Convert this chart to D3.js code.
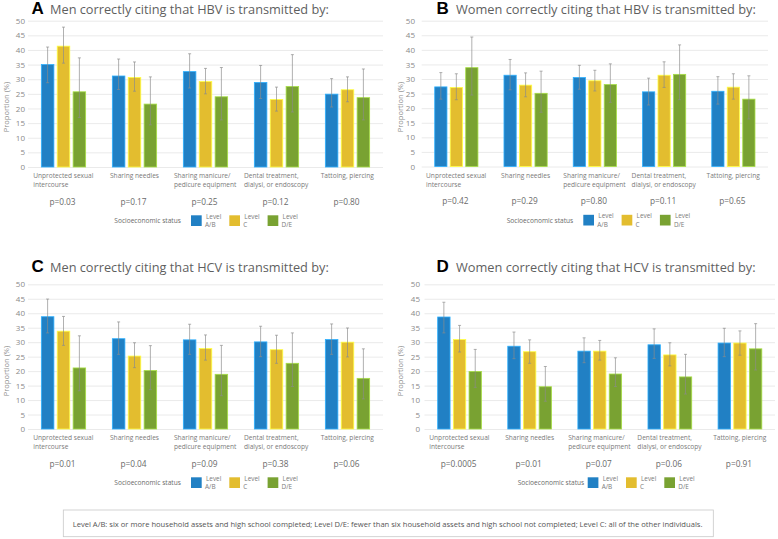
<!DOCTYPE html>
<html><head><meta charset="utf-8">
<script src="https://cdn.jsdelivr.net/npm/d3@7"></script>
<style>body{margin:0;background:#fff}svg{display:block}</style>
</head><body>
<svg id="chart" width="778" height="539"></svg>
<script>
// ---------- DATA ----------
const categories = ["Unprotected sexual intercourse","Sharing needles","Sharing manicure/pedicure equipment","Dental treatment, dialysi, or endoscopy","Tattoing, piercing"];
const categoryLines = [["Unprotected sexual","intercourse"],["Sharing needles"],["Sharing manicure/","pedicure equipment"],["Dental treatment,","dialysi, or endoscopy"],["Tattoing, piercing"]];
const levels = ["Level A/B","Level C","Level D/E"];
const levelLines = [["Level","A/B"],["Level","C"],["Level","D/E"]];
const yTicks = [0,5,10,15,20,25,30,35,40,45,50];
const footnote = "Level A/B: six or more household assets and high school completed; Level D/E: fewer than six household assets and high school not completed; Level C: all of the other individuals.";

// Panel A: Men, HBV
const menHBV_AB = [35.0,31.1,32.6,28.9,24.9], menHBV_AB_lo = [28.8,26.5,27.0,23.4,20.5], menHBV_AB_hi = [41.0,36.9,38.7,34.7,30.2];
const menHBV_C  = [41.3,30.6,29.2,23.1,26.4], menHBV_C_lo  = [35.5,25.9,25.0,19.1,22.3], menHBV_C_hi  = [47.8,35.9,33.7,27.3,30.8];
const menHBV_DE = [25.7,21.5,24.0,27.5,23.7], menHBV_DE_lo = [16.9,14.4,16.1,18.8,16.1], menHBV_DE_hi = [37.3,30.8,34.0,38.4,33.5];
const menHBV_p = ["p=0.03","p=0.17","p=0.25","p=0.12","p=0.80"];
// Panel B: Women, HBV
const womenHBV_AB = [27.3,31.3,30.5,25.6,25.8], womenHBV_AB_lo = [23.1,26.3,26.5,21.1,21.4], womenHBV_AB_hi = [32.2,36.7,34.7,30.3,30.8];
const womenHBV_C  = [27.1,27.9,29.4,31.3,27.2], womenHBV_C_lo  = [22.9,23.9,25.9,27.1,23.1], womenHBV_C_hi  = [31.8,32.1,33.0,35.9,31.8];
const womenHBV_DE = [33.9,25.1,28.1,31.6,23.1], womenHBV_DE_lo = [24.5,18.6,22.0,22.9,16.3], womenHBV_DE_hi = [44.4,32.7,35.2,41.7,31.1];
const womenHBV_p = ["p=0.42","p=0.29","p=0.80","p=0.11","p=0.65"];
// Panel C: Men, HCV
const menHCV_AB = [38.8,31.2,30.8,30.1,30.9], menHCV_AB_lo = [33.2,25.8,25.8,25.0,25.8], menHCV_AB_hi = [44.9,37.0,36.2,35.5,36.3];
const menHCV_C  = [33.8,25.2,27.8,27.4,30.0], menHCV_C_lo  = [28.9,21.2,23.8,22.7,24.9], menHCV_C_hi  = [38.9,29.8,32.5,32.4,34.9];
const menHCV_DE = [21.1,20.2,18.9,22.7,17.5], menHCV_DE_lo = [13.2,13.6,11.5,14.7,10.4], menHCV_DE_hi = [32.2,28.8,28.9,33.2,27.7];
const menHCV_p = ["p=0.01","p=0.04","p=0.09","p=0.38","p=0.06"];
// Panel D: Women, HCV
const womenHCV_AB = [38.7,28.6,26.9,29.1,29.7], womenHCV_AB_lo = [33.2,24.3,22.9,24.4,25.0], womenHCV_AB_hi = [43.8,33.5,31.5,34.6,34.8];
const womenHCV_C  = [30.9,26.7,26.9,25.6,29.7], womenHCV_C_lo  = [26.6,22.7,23.8,21.8,25.5], womenHCV_C_hi  = [35.8,30.8,30.6,29.8,33.9];
const womenHCV_DE = [19.9,14.6,19.0,18.0,27.7], womenHCV_DE_lo = [14.4,9.6,14.7,12.1,20.4], womenHCV_DE_hi = [27.5,21.6,24.6,25.8,36.4];
const womenHCV_p = ["p=0.0005","p=0.01","p=0.07","p=0.06","p=0.91"];

// ---------- STYLE / LAYOUT ----------
const colors = ["#2180c4","#e3bd2f","#79a232"];
const FONT = "'Open Sans', sans-serif";
const panels = [
  {letter:"A", title:"Men correctly citing that HBV is transmitted by:", vals:[menHBV_AB,menHBV_C,menHBV_DE], lo:[menHBV_AB_lo,menHBV_C_lo,menHBV_DE_lo], hi:[menHBV_AB_hi,menHBV_C_hi,menHBV_DE_hi], p:menHBV_p,
   left:28, right:383, y50:20.7, y0:167, tickEnd:25, letterX:31.5, textX:50, titleBase:14, titleW:279, socioX:114.3, swatchX:191, propX:6, propY:107},
  {letter:"B", title:"Women correctly citing that HBV is transmitted by:", vals:[womenHBV_AB,womenHBV_C,womenHBV_DE], lo:[womenHBV_AB_lo,womenHBV_C_lo,womenHBV_DE_lo], hi:[womenHBV_AB_hi,womenHBV_C_hi,womenHBV_DE_hi], p:womenHBV_p,
   left:421.7, right:768, y50:20.7, y0:166.5, tickEnd:415, letterX:436.5, textX:456, titleBase:14, titleW:300, socioX:506.7, swatchX:583.3, propX:400, propY:107},
  {letter:"C", title:"Men correctly citing that HCV is transmitted by:", vals:[menHCV_AB,menHCV_C,menHCV_DE], lo:[menHCV_AB_lo,menHCV_C_lo,menHCV_DE_lo], hi:[menHCV_AB_hi,menHCV_C_hi,menHCV_DE_hi], p:menHCV_p,
   left:28, right:383, y50:284.3, y0:429, tickEnd:25, letterX:31.5, textX:50, titleBase:272, titleW:279, socioX:114.3, swatchX:191, propX:6, propY:371},
  {letter:"D", title:"Women correctly citing that HCV is transmitted by:", vals:[womenHCV_AB,womenHCV_C,womenHCV_DE], lo:[womenHCV_AB_lo,womenHCV_C_lo,womenHCV_DE_lo], hi:[womenHCV_AB_hi,womenHCV_C_hi,womenHCV_DE_hi], p:womenHCV_p,
   left:424.5, right:775, y50:284.3, y0:429, tickEnd:420, letterX:436.5, textX:456, titleBase:272, titleW:300, socioX:517.7, swatchX:587.7, propX:400, propY:371}
];

const svg = d3.select("#chart");
function fit(sel, target){
  const w = sel.node().getComputedTextLength();
  const fs = parseFloat(sel.attr("font-size"));
  sel.attr("font-size", (fs*target/w).toFixed(2));
}

panels.forEach(P => {
  const g = svg.append("g");
  const y = d3.scaleLinear().domain([0,50]).range([P.y0, P.y50]);
  const x0 = d3.scaleBand().domain(categories).range([P.left, P.right]).paddingInner(0.376).paddingOuter(0.188);
  const x1 = d3.scaleBand().domain(levels).range([0, x0.bandwidth()]).paddingInner(0.21).paddingOuter(0);

  // gridlines + ticks via axis
  const axis = d3.axisLeft(y).tickValues(yTicks).tickSize(-(P.right - P.left)).tickPadding(P.left - P.tickEnd);
  const ax = g.append("g").attr("transform", `translate(${P.left},0)`).call(axis);
  ax.select(".domain").remove();
  ax.selectAll(".tick line").attr("stroke", "#e4e4e4").attr("stroke-width", 0.8);
  ax.selectAll(".tick text").attr("fill", "#8a8a8a").attr("font-family", FONT).attr("font-size", 8);

  // y label
  g.append("text").attr("transform", `translate(${P.propX},${P.propY}) rotate(-90)`)
    .attr("text-anchor","middle").attr("dominant-baseline","central")
    .attr("font-family", FONT).attr("font-size", 7.5).attr("fill", "#8a8a8a").text("Proportion (%)");

  // bars
  levels.forEach((lev, si) => {
    const col = colors[si];
    const grp = g.append("g");
    grp.selectAll("rect").data(categories).join("rect")
      .attr("x", c => x0(c) + x1(lev))
      .attr("y", (c,i) => y(P.vals[si][i]))
      .attr("width", x1.bandwidth())
      .attr("height", (c,i) => y(0) - y(P.vals[si][i]))
      .attr("fill", col)
      .attr("stroke", d3.color(col).brighter(0.9)).attr("stroke-width", 0.8);
  });
  // error bars
  levels.forEach((lev, si) => {
    const eb = g.append("g").attr("stroke", "#8c8c8c").attr("stroke-width", 0.8).attr("stroke-opacity", 0.85);
    categories.forEach((c, i) => {
      const cx = x0(c) + x1(lev) + x1.bandwidth()/2;
      const yl = y(P.lo[si][i]), yh = y(P.hi[si][i]);
      eb.append("line").attr("x1", cx).attr("x2", cx).attr("y1", yl).attr("y2", yh);
      eb.append("line").attr("x1", cx-1.5).attr("x2", cx+1.5).attr("y1", yh).attr("y2", yh);
      eb.append("line").attr("x1", cx-1.5).attr("x2", cx+1.5).attr("y1", yl).attr("y2", yl);
    });
  });

  // category labels (left-aligned block, centered on band)
  categories.forEach((c, i) => {
    const cx = x0(c) + x0.bandwidth()/2;
    const t = g.append("text").attr("font-family", FONT).attr("font-size", 6.6).attr("fill", "#7a7a7a");
    categoryLines[i].forEach((ln, k) => {
      t.append("tspan").attr("x", 0).attr("y", P.y0 + 11.2 + k*8.8).text(ln);
    });
    const w = t.node().getBBox().width;
    t.selectAll("tspan").attr("x", cx - w/2);
    g.append("text").attr("x", cx - 1).attr("y", P.y0 + 37.6).attr("text-anchor","middle")
      .attr("font-family", FONT).attr("font-size", 8.3).attr("fill", "#6a6a6a").text(P.p[i]);
  });

  // legend
  const ly = P.y0 + 48.3;
  g.append("text").attr("x", P.socioX).attr("y", ly + 8).attr("font-family", FONT).attr("font-size", 6.6)
    .attr("fill", "#6a6a6a").text("Socioeconomic status");
  levels.forEach((lev, si) => {
    const sx = P.swatchX + si*38.3;
    g.append("rect").attr("x", sx).attr("y", ly).attr("width", 10.7).attr("height", 10.7).attr("fill", colors[si]);
    const t = g.append("text").attr("font-family", FONT).attr("font-size", 6.4).attr("fill", "#7a7a7a");
    t.append("tspan").attr("x", sx + 15).attr("y", ly + 3.6).text(levelLines[si][0]);
    t.append("tspan").attr("x", sx + 14).attr("y", ly + 11.8).text(levelLines[si][1]);
  });

  // title
  g.append("text").attr("x", P.letterX).attr("y", P.titleBase).attr("font-family", "'Liberation Sans', Arial, sans-serif")
    .attr("font-weight", "bold").attr("font-size", 17).attr("fill", "#000").text(P.letter);
  const tt = g.append("text").attr("x", P.textX).attr("y", P.titleBase).attr("font-family", FONT)
    .attr("font-size", 13).attr("fill", "#5f5f5f").text(P.title);
  fit(tt, P.titleW);
});

// footnote box
svg.append("rect").attr("x", 63.3).attr("y", 510).attr("width", 650).attr("height", 26.7)
  .attr("fill", "#fff").attr("stroke", "#c8c8c8").attr("stroke-width", 0.8);
const fn = svg.append("text").attr("x", 72.7).attr("y", 526.6).attr("font-family", FONT)
  .attr("font-size", 8).attr("fill", "#555").text(footnote);
fit(fn, 630.5);
</script>
</body></html>
